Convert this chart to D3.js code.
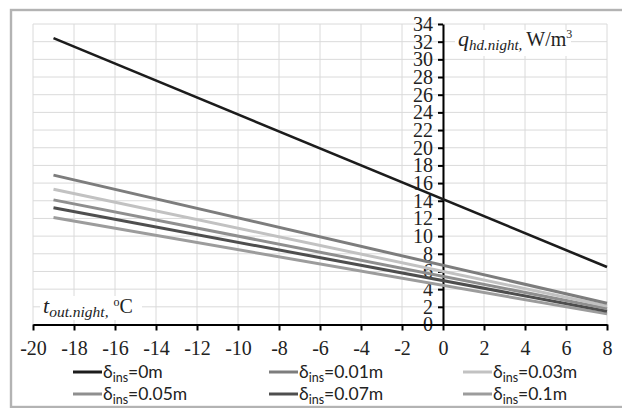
<!DOCTYPE html>
<html>
<head>
<meta charset="utf-8">
<script src="https://cdn.jsdelivr.net/npm/d3@7"></script>
<style>
  html, body { margin: 0; padding: 0; background: #fff; }
  svg { display: block; }
</style>
</head>
<body>
<svg id="chart" width="622" height="408"></svg>
<script>
// Outdoor night temperature, °C
const tempRange = [-19, 8];
// Night heat demand q, W/m3, at each end of the temperature range
const q0m   = [32.4, 6.5];
const q001m = [16.9, 2.4];
const q003m = [15.3, 2.1];
const q005m = [14.1, 1.8];
const q007m = [13.2, 1.5];
const q01m  = [12.1, 1.2];

const seriesNames = ["0m", "0.01m", "0.03m", "0.05m", "0.07m", "0.1m"];
const seriesValues = [q0m, q001m, q003m, q005m, q007m, q01m];
const seriesColors = ["#1c1c1c", "#7d7d7d", "#c2c2c2", "#8f8f8f", "#4e4e4e", "#9c9c9c"];
const seriesWidths = [2.6, 3, 3, 3, 3, 3];

const xTicks = d3.range(-20, 9, 2);
const yTicks = d3.range(0, 35, 2);

const svg = d3.select("#chart");
const serif = "'Liberation Serif', 'Times New Roman', serif";
const sans = "Lato, 'Open Sans', 'Liberation Sans', sans-serif";

const x = d3.scaleLinear().domain([-20, 8]).range([33, 607]);
const y = d3.scaleLinear().domain([0, 34]).range([324.5, 24]);

// outer frame
svg.append("rect")
  .attr("x", 11).attr("y", 10).attr("width", 622).attr("height", 397)
  .attr("fill", "none").attr("stroke", "#b3b3b3").attr("stroke-width", 2.4);

// grid
const grid = svg.append("g").attr("stroke", "#dadada").attr("stroke-width", 1);
grid.selectAll("line.v").data(xTicks).join("line")
  .attr("x1", d => x(d)).attr("x2", d => x(d))
  .attr("y1", y(34)).attr("y2", y(0));
grid.selectAll("line.h").data(yTicks).join("line")
  .attr("x1", x(-20)).attr("x2", x(8))
  .attr("y1", d => y(d)).attr("y2", d => y(d));

// axis title backgrounds
svg.append("rect").attr("x", 455).attr("y", 30).attr("width", 116).attr("height", 26).attr("fill", "#fff");
svg.append("rect").attr("x", 40).attr("y", 296).attr("width", 102).attr("height", 24).attr("fill", "#fff");

// y axis at t = 0
const yAxis = svg.append("g")
  .attr("transform", `translate(${x(0)},0)`)
  .call(d3.axisLeft(y).tickValues(yTicks).tickSize(5).tickSizeOuter(0).tickPadding(5)
        .tickFormat(d => String(d)));
yAxis.attr("font-family", serif);
yAxis.select(".domain").attr("stroke", "#000").attr("stroke-width", 2);
yAxis.selectAll(".tick line").attr("stroke", "#000").attr("stroke-width", 2);
yAxis.selectAll(".tick text")
  .attr("font-family", serif).attr("font-size", 20).attr("fill", "#222");

// x axis at q = 0
const xAxis = svg.append("g")
  .attr("transform", `translate(0,${y(0)})`)
  .call(d3.axisBottom(x).tickValues(xTicks).tickSize(6).tickSizeOuter(0).tickPadding(10.5)
        .tickFormat(d => String(d)));
xAxis.attr("font-family", serif);
xAxis.select(".domain").attr("stroke", "#000").attr("stroke-width", 2.2);
xAxis.selectAll(".tick line").attr("stroke", "#000").attr("stroke-width", 2);
xAxis.selectAll(".tick text")
  .attr("font-family", serif).attr("font-size", 20).attr("fill", "#222");

// series lines
const line = d3.line().x(d => x(d[0])).y(d => y(d[1]));
svg.append("g").selectAll("path")
  .data(seriesValues.map((v, i) => ({ v, i })).reverse())
  .join("path")
  .attr("d", d => line(tempRange.map((t, k) => [t, d.v[k]])))
  .attr("fill", "none")
  .attr("stroke", d => seriesColors[d.i])
  .attr("stroke-width", d => seriesWidths[d.i]);

// axis titles
const qt = svg.append("text").attr("x", 458).attr("y", 46)
  .attr("font-family", serif).attr("fill", "#222");
qt.append("tspan").attr("font-size", 22).attr("font-style", "italic").text("q");
qt.append("tspan").attr("font-size", 15).attr("font-style", "italic").attr("dy", 4).text("hd.night");
qt.append("tspan").attr("font-size", 15).attr("font-style", "italic").text(",");
qt.append("tspan").attr("font-size", 20).attr("dy", -4).attr("dx", 4).text("W/m");
qt.append("tspan").attr("font-size", 12).attr("dy", -8).text("3");

const tt = svg.append("text").attr("x", 43).attr("y", 313)
  .attr("font-family", serif).attr("fill", "#222");
tt.append("tspan").attr("font-size", 22).attr("font-style", "italic").text("t");
tt.append("tspan").attr("font-size", 15.5).attr("font-style", "italic").attr("dy", 4).text("out.night");
tt.append("tspan").attr("font-size", 15.5).attr("font-style", "italic").text(",");
tt.append("tspan").attr("font-size", 12).attr("dy", -11).attr("dx", 5).text("o");
tt.append("tspan").attr("font-size", 20).attr("dy", 7).text("C");

// legend
const legCols = [73, 269, 463];
const legRows = [372, 394];
const leg = svg.append("g").selectAll("g")
  .data(seriesNames.map((n, i) => ({ n, i })))
  .join("g")
  .attr("transform", d => `translate(${legCols[d.i % 3]},${legRows[Math.floor(d.i / 3)]})`);
leg.append("line")
  .attr("x1", 0).attr("x2", 29).attr("y1", 0).attr("y2", 0)
  .attr("stroke", d => seriesColors[d.i]).attr("stroke-width", 3);
const lt = leg.append("text").attr("x", 30).attr("y", 6)
  .attr("font-family", sans).attr("font-size", 17.5).attr("fill", "#222");
lt.append("tspan").text("δ");
lt.append("tspan").attr("font-size", 12.5).attr("dy", 4).text("ins");
lt.append("tspan").attr("dy", -4).text(d => "=" + d.n);
</script>
</body>
</html>
